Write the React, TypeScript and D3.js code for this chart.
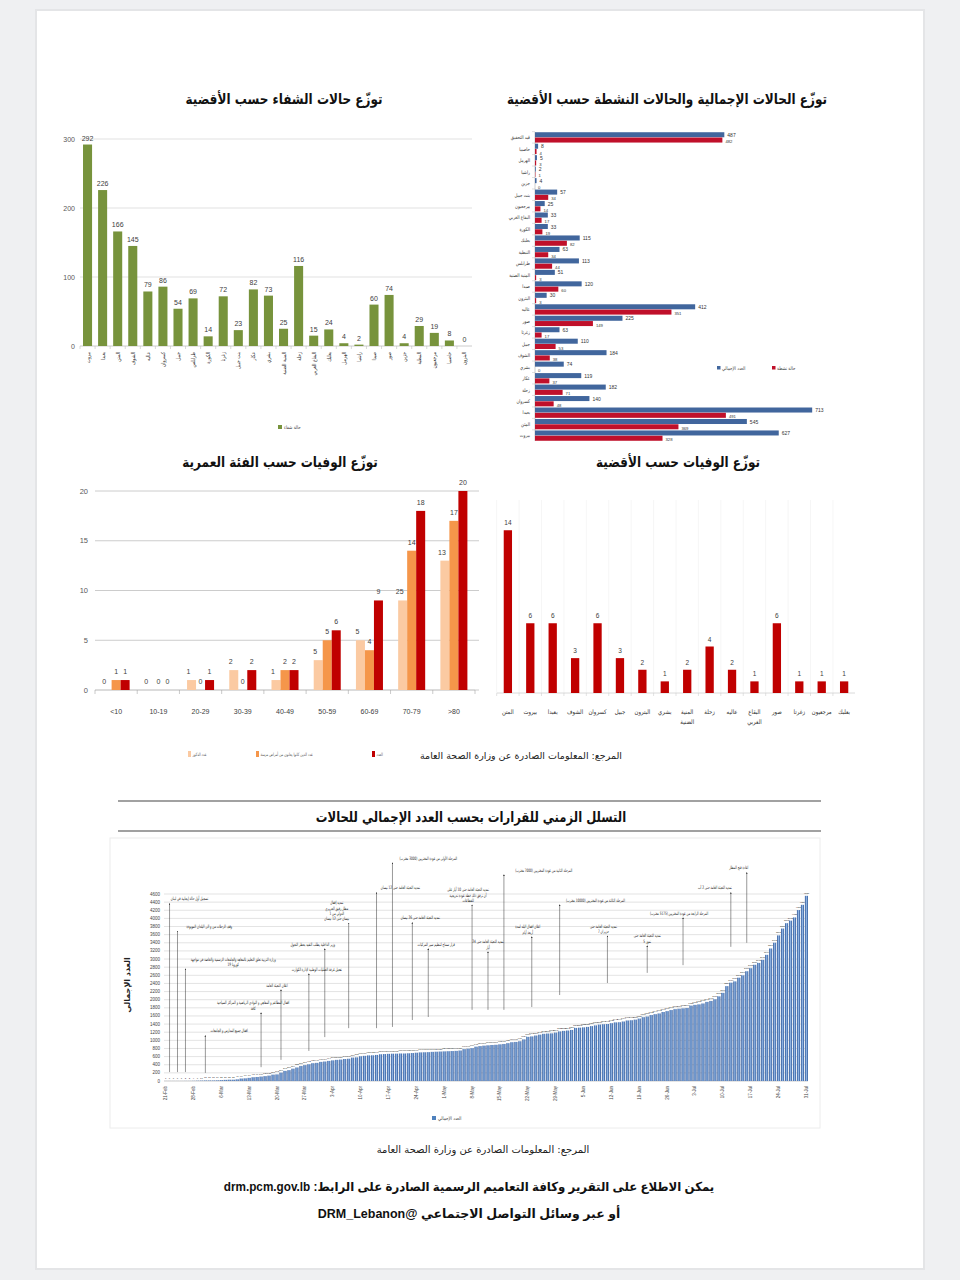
import React from 'react';
import * as d3 from 'd3';

const AR = "'DejaVu Sans', sans-serif";
const NUM = "'Liberation Sans Narrow', 'Liberation Sans', Arial, sans-serif";
const LAT = "'Liberation Sans', 'DejaVu Sans', Arial, sans-serif";

// ---------- Chart 1: recoveries by district ----------
const recoveryDistricts = ['بيروت', 'بعبدا', 'المتن', 'الشوف', 'عاليه', 'كسروان', 'جبيل', 'طرابلس', 'الكورة', 'زغرتا', 'بنت جبيل', 'عكار', 'بشري', 'المنية الضنية', 'زحلة', 'البقاع الغربي', 'بعلبك', 'الهرمل', 'راشيا', 'صيدا', 'صور', 'جزين', 'النبطية', 'مرجعيون', 'حاصبيا', 'البترون'];
const recoveryValues = [292, 226, 166, 145, 79, 86, 54, 69, 14, 72, 23, 82, 73, 25, 116, 15, 24, 4, 2, 60, 74, 4, 29, 19, 8, 0];
const recoveryTicks = [0, 100, 200, 300];

// ---------- Chart 2: total & active by district ----------
const caseDistricts = ['قيد التحقيق', 'حاصبيا', 'الهرمل', 'راشيا', 'جزين', 'بنت جبيل', 'مرجعيون', 'البقاع الغربي', 'الكورة', 'بعلبك', 'النبطية', 'طرابلس', 'المنية الضنية', 'صيدا', 'البترون', 'عاليه', 'صور', 'زغرتا', 'جبيل', 'الشوف', 'بشري', 'عكار', 'زحلة', 'كسروان', 'بعبدا', 'المتن', 'بيروت'];
const totalCases = [487, 8, 5, 2, 4, 57, 25, 33, 33, 115, 63, 113, 51, 120, 30, 412, 225, 63, 110, 184, 74, 119, 182, 140, 713, 545, 627];
const activeCases = [482, 4, 3, 1, 0, 34, 14, 17, 19, 82, 34, 44, 3, 60, 3, 351, 149, 17, 53, 38, 0, 37, 71, 48, 491, 369, 328];

// ---------- Chart 3: deaths by age ----------
const ageGroups = ['<10', '10-19', '20-29', '30-39', '40-49', '50-59', '60-69', '70-79', '>80'];
const deathsMale = [0, 0, 1, 2, 1, 3, 5, 9, 13];
const deathsMaleLabels = ['0', '0', '1', '2', '1', '5', '5', '25', '13'];
const deathsChronic = [1, 0, 0, 0, 2, 5, 4, 14, 17];
const deathsAll = [1, 0, 1, 2, 2, 6, 9, 18, 20];
const ageTicks = [0, 5, 10, 15, 20];
const ageSeriesNames = ['عدد الذكور', 'عدد الذين كانوا يعانون من أمراض مزمنة', 'العدد'];

// ---------- Chart 4: deaths by district ----------
const deathDistricts = [['المتن'], ['بيروت'], ['بعبدا'], ['الشوف'], ['كسروان'], ['جبيل'], ['البترون'], ['بشري'], ['المنية', 'الضنية'], ['زحلة'], ['عاليه'], ['البقاع', 'الغربي'], ['صور'], ['زغرتا'], ['مرجعيون'], ['بعلبك']];
const deathCounts = [14, 6, 6, 3, 6, 3, 2, 1, 2, 4, 2, 1, 6, 1, 1, 1];

// ---------- Chart 5: cumulative cases timeline ----------
const cumFeb = [1, 1, 1, 1, 1, 2, 2, 4, 7];
const cumMar = [10, 13, 13, 13, 16, 22, 28, 32, 32, 41, 61, 66, 77, 93, 99, 109, 120, 133, 157, 163, 206, 248, 267, 304, 333, 368, 391, 412, 438, 446, 470];
const cumApr = [479, 494, 508, 520, 527, 541, 548, 576, 582, 609, 619, 630, 632, 641, 658, 663, 668, 672, 673, 677, 677, 682, 688, 696, 704, 707, 710, 717, 721, 725];
const cumMay = [729, 733, 737, 741, 750, 784, 796, 809, 845, 859, 870, 878, 886, 891, 902, 911, 931, 954, 961, 978, 1024, 1086, 1097, 1119, 1140, 1161, 1168, 1172, 1191, 1220, 1233];
const cumJun = [1242, 1256, 1306, 1312, 1320, 1331, 1350, 1369, 1388, 1397, 1402, 1422, 1442, 1446, 1464, 1489, 1495, 1510, 1536, 1570, 1587, 1622, 1644, 1662, 1697, 1719, 1745, 1768, 1778, 1788];
const cumJul = [1796, 1855, 1873, 1885, 1907, 1946, 1968, 2011, 2082, 2168, 2334, 2419, 2451, 2542, 2599, 2700, 2775, 2859, 2905, 2980, 3104, 3260, 3402, 3582, 3750, 3882, 3945, 4023, 4205, 4334, 4555];
const cumulative = [...cumFeb, ...cumMar, ...cumApr, ...cumMay, ...cumJun, ...cumJul];
const timelineTicks = d3.range(0, 4601, 200);

const annotations = [
  { date: '2020-02-22', tip: 220, textDate: '2020-02-27', level: 4480, lines: ['تسجيل أول حالة إيجابية في لبنان'] },
  { date: '2020-02-24', tip: 220, textDate: '2020-03-03', level: 3800, lines: ['وقف الرحلات من و الى البلدان الموبوءة'] },
  { date: '2020-02-26', tip: 220, textDate: '2020-03-09', level: 3000, lines: ['وزارة التربية تعلق التعليم بالمعاهد والجامعات الرسمية والخاصة في مواجهة', 'كورونا 19'] },
  { date: '2020-03-02', tip: 200, textDate: '2020-03-08', level: 1230, lines: ['اقفال جميع المدارس و الجامعات'] },
  { date: '2020-03-16', tip: 340, textDate: '2020-03-14', level: 1920, lines: ['اقفال المطاعم و المقاهي و النوادي الرياضية و المراكز السياحية', 'كافة'] },
  { date: '2020-03-21', tip: 520, textDate: '2020-03-20', level: 2360, lines: ['اعلان التعبئة العامة'] },
  { date: '2020-03-28', tip: 740, textDate: '2020-03-30', level: 2750, lines: ['تفعيل غرفة العمليات الوطنية لإدارة الكوارث'] },
  { date: '2020-04-01', tip: 1080, textDate: '2020-03-29', level: 3370, lines: ['وزير الداخلية يطلب التقيد بحظر التجول'] },
  { date: '2020-04-07', tip: 1300, textDate: '2020-04-04', level: 4380, lines: ['تمديد إقفال', 'مطار رفيق الحريري', 'الدولي من 1', 'نيسان حتى 12 نيسان'] },
  { date: '2020-04-14', tip: 1300, textDate: '2020-04-20', level: 4750, lines: ['تمديد التعبئة العامة حتى 12 نيسان'] },
  { date: '2020-04-18', tip: 1330, textDate: '2020-04-27', level: 5480, lines: ['المرحلة الأولى من عودة المغتربين (3000 مغترب)'] },
  { date: '2020-04-23', tip: 1500, textDate: '2020-04-25', level: 4010, lines: ['تمديد التعبئة العامة حتى 26 نيسان'] },
  { date: '2020-04-27', tip: 1575, textDate: '2020-04-29', level: 3370, lines: ['قرار سماح لتنظيم سير المركبات'] },
  { date: '2020-05-08', tip: 1750, textDate: '2020-05-07', level: 4700, lines: ['تمديد التعبئة العامة حتى 10 أيار على', 'أن ترفق ذلك خطة عودة تدريجية', 'للقطاعات'] },
  { date: '2020-05-12', tip: 1750, textDate: '2020-05-12', level: 3420, lines: ['تمديد التعبئة العامة حتى 24', 'أيار'] },
  { date: '2020-05-16', tip: 1750, textDate: '2020-05-26', level: 5190, lines: ['المرحلة الثانية من عودة المغتربين (7000 مغترب)'] },
  { date: '2020-05-23', tip: 1820, textDate: '2020-05-22', level: 3790, lines: ['اعلان اقفال البلد لمدة', 'أربعة أيام'] },
  { date: '2020-05-30', tip: 2115, textDate: '2020-06-08', level: 4450, lines: ['المرحلة الثالثة من عودة المغتربين (10000 مغترب)'] },
  { date: '2020-06-11', tip: 2410, textDate: '2020-06-10', level: 3810, lines: ['تمديد التعبئة العامة حتى', '7 حزيران'] },
  { date: '2020-06-21', tip: 2660, textDate: '2020-06-21', level: 3570, lines: ['تمديد التعبئة العامة حتى', '5 تموز'] },
  { date: '2020-06-30', tip: 2850, textDate: '2020-06-29', level: 4130, lines: ['المرحلة الرابعة من عودة المغتربين (5175 مغترب)'] },
  { date: '2020-07-12', tip: 3300, textDate: '2020-07-08', level: 4750, lines: ['تمديد التعبئة العامة حتى 2 آب'] },
  { date: '2020-07-16', tip: 3400, textDate: '2020-07-14', level: 5240, lines: ['اعادة فتح المطار'] },
];

type TP = { x: number; y: number; size: number; anchor?: string; weight?: string | number; fill?: string; sx?: number; rot?: number; family?: string; dir?: string; children: React.ReactNode };
function T({ x, y, size, anchor = 'middle', weight = 'normal', fill = '#222', sx = 1, rot = 0, family = AR, dir, children }: TP) {
  return (
    <text transform={`translate(${x},${y}) rotate(${rot}) scale(${sx},1)`} fontSize={size} textAnchor={anchor}
      fontWeight={weight} fill={fill} fontFamily={family} direction={dir as any}>{children}</text>
  );
}

const TITLE_SX = 0.83;

function RecoveryChart() {
  const x = d3.scaleBand<string>().domain(recoveryDistricts).range([80, 472]).paddingInner(0.4).paddingOuter(0.2);
  const y = d3.scaleLinear().domain([0, 300]).range([346, 139]);
  const step = x.step();
  return (
    <g>
      <T x={284} y={104} size={14.5} weight="bold" sx={TITLE_SX} fill="#111">توزّع حالات الشفاء حسب الأقضية</T>
      {recoveryTicks.map(t => (
        <g key={t}>
          {t > 0 && <line x1={80} x2={472} y1={y(t)} y2={y(t)} stroke="#d9d9d9" strokeWidth={0.8} />}
          <T x={75} y={y(t) + 2.5} size={7} anchor="end" fill="#595959" family={NUM}>{t}</T>
        </g>
      ))}
      <line x1={80} x2={472} y1={y(0)} y2={y(0)} stroke="#bfbfbf" strokeWidth={0.8} />
      {recoveryDistricts.map((d, i) => (
        <line key={d} x1={80 + i * step} x2={80 + i * step} y1={y(0)} y2={y(0) + 3} stroke="#bfbfbf" strokeWidth={0.6} />
      ))}
      {recoveryDistricts.map((d, i) => (
        <g key={d}>
          <rect x={x(d)} y={y(recoveryValues[i])} width={x.bandwidth()} height={y(0) - y(recoveryValues[i])} fill="#77933c" />
          <T x={x(d)! + x.bandwidth() / 2} y={y(recoveryValues[i]) - 4} size={7} fill="#404040" family={NUM}>{recoveryValues[i]}</T>
          <T x={x(d)! + x.bandwidth() / 2 + 2} y={352} size={5.5} anchor="end" rot={-90} sx={0.8} fill="#333">{d}</T>
        </g>
      ))}
      <rect x={278} y={425} width={4} height={4} fill="#77933c" />
      <T x={284} y={429} size={5} anchor="start" sx={0.8} fill="#444">حالة شفاء</T>
    </g>
  );
}

function CasesChart() {
  const y = d3.scaleBand<string>().domain(caseDistricts).range([132, 441]).paddingInner(0.1).paddingOuter(0.02);
  const sub = d3.scaleBand<number>().domain([0, 1]).range([0, y.bandwidth()]).paddingInner(0.05);
  const x = d3.scaleLinear().domain([0, 800]).range([535, 846]);
  const blue = '#41669d';
  const red = '#c0102a';
  return (
    <g>
      <T x={667} y={104} size={14.5} weight="bold" sx={TITLE_SX} fill="#111">توزّع الحالات الإجمالية والحالات النشطة حسب الأقضية</T>
      <line x1={x(0)} x2={x(0)} y1={132} y2={441} stroke="#bfbfbf" strokeWidth={0.8} />
      {caseDistricts.map((d, i) => {
        const y0 = y(d)!;
        return (
          <g key={d}>
            <line x1={x(0) - 3} x2={x(0)} y1={y0 - 0.6} y2={y0 - 0.6} stroke="#bfbfbf" strokeWidth={0.5} />
            <rect x={x(0)} y={y0 + sub(0)!} width={x(totalCases[i]) - x(0)} height={sub.bandwidth()} fill={blue} />
            <rect x={x(0)} y={y0 + sub(1)!} width={x(activeCases[i]) - x(0)} height={sub.bandwidth()} fill={red} />
            <T x={x(totalCases[i]) + 3} y={y0 + sub(0)! + sub.bandwidth() - 0.5} size={5} anchor="start" fill="#333" family={NUM}>{totalCases[i]}</T>
            <T x={x(activeCases[i]) + 3} y={y0 + sub(1)! + sub.bandwidth() + 0.5} size={4.2} anchor="start" fill="#333" family={NUM}>{activeCases[i]}</T>
            <T x={530} y={y0 + y.bandwidth() / 2 + 1.8} size={5} anchor="end" sx={0.8} fill="#333">{d}</T>
          </g>
        );
      })}
      <rect x={717} y={366} width={3.5} height={3.5} fill={blue} />
      <T x={722} y={369.5} size={5} anchor="start" sx={0.8} fill="#444">العدد الإجمالي</T>
      <rect x={772} y={366} width={3.5} height={3.5} fill={red} />
      <T x={777} y={369.5} size={5} anchor="start" sx={0.8} fill="#444">حالة نشطة</T>
    </g>
  );
}

function AgeChart() {
  const x = d3.scaleBand<string>().domain(ageGroups).range([95, 475]).paddingInner(0.36).paddingOuter(0.18);
  const sub = d3.scaleBand<number>().domain([0, 1, 2]).range([0, x.bandwidth()]);
  const y = d3.scaleLinear().domain([0, 20]).range([690, 491]);
  const colors = ['#fbcaa2', '#f5964a', '#c00000'];
  const series = [deathsMale, deathsChronic, deathsAll];
  const labels = [deathsMaleLabels, deathsChronic.map(String), deathsAll.map(String)];
  const step = x.step();
  return (
    <g>
      <T x={280} y={467} size={14.5} weight="bold" sx={TITLE_SX} fill="#111">توزّع الوفيات حسب الفئة العمرية</T>
      {ageTicks.map(t => (
        <g key={t}>
          <line x1={95} x2={475} y1={y(t)} y2={y(t)} stroke={t === 0 ? '#a6a6a6' : '#bfbfbf'} strokeWidth={0.8} />
          <line x1={475} x2={479} y1={y(t)} y2={y(t)} stroke="#bfbfbf" strokeWidth={0.8} />
          <T x={88} y={y(t) + 2.5} size={7.5} anchor="end" fill="#595959" family={NUM}>{t}</T>
        </g>
      ))}
      <line x1={95} x2={95} y1={y(0)} y2={y(0) + 4} stroke="#a6a6a6" strokeWidth={0.6} />
      {ageGroups.map((g, i) => (
        <g key={g}>
          <line x1={95 + (i + 1) * step} x2={95 + (i + 1) * step} y1={y(0)} y2={y(0) + 4} stroke="#a6a6a6" strokeWidth={0.6} />
          {series.map((s, k) => (
            <g key={k}>
              <rect x={x(g)! + sub(k)!} y={y(s[i])} width={sub.bandwidth()} height={y(0) - y(s[i])} fill={colors[k]} />
              <T x={x(g)! + sub(k)! + sub.bandwidth() / 2 - (k === 0 ? 3 : 0)} y={y(s[i]) - 6} size={7} fill="#404040" family={NUM}>{labels[k][i]}</T>
            </g>
          ))}
          <T x={x(g)! + x.bandwidth() / 2} y={714} size={7} fill="#404040" family={NUM}>{g}</T>
        </g>
      ))}
      {ageSeriesNames.map((n, k) => {
        const lx = [188, 256, 372][k];
        return (
          <g key={n}>
            <rect x={lx} y={751} width={3} height={6} fill={colors[k]} />
            <T x={lx + 4.5} y={756} size={4.5} anchor="start" sx={0.7} fill="#555">{n}</T>
          </g>
        );
      })}
    </g>
  );
}

function DeathsDistrictChart() {
  const names = deathDistricts.map(d => d.join(' '));
  const x = d3.scaleBand<string>().domain(names).range([497, 855]).paddingInner(0.63).paddingOuter(0.3);
  const y = d3.scaleLinear().domain([0, 16]).range([693, 507]);
  const step = x.step();
  return (
    <g>
      <T x={678} y={467} size={14.5} weight="bold" sx={TITLE_SX} fill="#111">توزّع الوفيات حسب الأقضية</T>
      {names.map(n => (
        <line key={'g' + n} x1={x(n)! - step * 0.315} x2={x(n)! - step * 0.315} y1={500} y2={693} stroke="#f4f4f4" strokeWidth={0.8} />
      ))}
      <line x1={497} x2={855} y1={y(0)} y2={y(0)} stroke="#d0d0d0" strokeWidth={0.8} />
      {names.map((n, i) => (
        <g key={n}>
          <line x1={x(n)! - step * 0.315} x2={x(n)! - step * 0.315} y1={y(0)} y2={y(0) + 3} stroke="#d0d0d0" strokeWidth={0.6} />
          <rect x={x(n)} y={y(deathCounts[i])} width={x.bandwidth()} height={y(0) - y(deathCounts[i])} fill="#c00000" />
          <T x={x(n)! + x.bandwidth() / 2} y={y(deathCounts[i]) - 5} size={6.5} fill="#404040" family={NUM}>{deathCounts[i]}</T>
          {deathDistricts[i].map((part, j) => (
            <T key={j} x={x(n)! + x.bandwidth() / 2} y={714 + j * 10} size={6.3} sx={0.85} fill="#333">{part}</T>
          ))}
        </g>
      ))}
      <T x={622} y={759} size={9.5} anchor="end" fill="#222">المرجع: المعلومات الصادرة عن وزارة الصحة العامة</T>
    </g>
  );
}

function TimelineChart() {
  const parse = d3.timeParse('%Y-%m-%d');
  const dates = d3.timeDay.range(new Date(2020, 1, 21), new Date(2020, 7, 1));
  const x = d3.scaleBand<number>().domain(dates.map(d => +d)).range([164, 808]).paddingInner(0.22);
  const y = d3.scaleLinear().domain([0, 4600]).range([1081, 894]);
  const bw = x.bandwidth();
  const cx = (d: Date) => x(+d)! + bw / 2;
  const fmt = d3.timeFormat('%-d-%b');
  return (
    <g>
      <defs>
        <linearGradient id="barGrad" x1="0" x2="1" y1="0" y2="0">
          <stop offset="0%" stopColor="#2c5597" />
          <stop offset="50%" stopColor="#8fb4e3" />
          <stop offset="100%" stopColor="#2c5597" />
        </linearGradient>
        <marker id="arr" viewBox="0 0 6 6" refX={3} refY={3} markerWidth={3.5} markerHeight={3.5} orient="auto">
          <path d="M0,0 L6,3 L0,6 z" fill="#333" />
        </marker>
      </defs>
      <line x1={118} x2={821} y1={801} y2={801} stroke="#444" strokeWidth={1.2} />
      <T x={471} y={822} size={14} weight="bold" sx={TITLE_SX} fill="#111">التسلل الزمني للقرارات بحسب العدد الإجمالي للحالات</T>
      <line x1={118} x2={821} y1={831} y2={831} stroke="#444" strokeWidth={1.2} />
      <rect x={110} y={838} width={710} height={290} fill="none" stroke="#ececec" strokeWidth={1} />
      {timelineTicks.map(t => (
        <g key={t}>
          <line x1={164} x2={808} y1={y(t)} y2={y(t)} stroke={t === 0 ? '#aaa' : '#d0d0d0'} strokeWidth={0.6} />
          <T x={160} y={y(t) + 1.5} size={4.5} anchor="end" fill="#444" family={NUM}>{t}</T>
        </g>
      ))}
      {dates.map((d, i) => (
        <g key={+d}>
          <rect x={x(+d)} y={y(cumulative[i])} width={bw} height={y(0) - y(cumulative[i])} fill="url(#barGrad)" />
          <T x={cx(d)} y={y(cumulative[i]) - 2} size={2.4} fill="#333" family={NUM}>{cumulative[i]}</T>
          {i % 7 === 0 && <T x={cx(d) + 1.5} y={1086} size={4.5} anchor="end" rot={-90} fill="#444" family={NUM}>{fmt(d)}</T>}
        </g>
      ))}
      {annotations.map((a, i) => {
        const d = parse(a.date)!;
        const td = parse(a.textDate)!;
        const ty = y(a.level) + 1.5;
        const lastY = ty + (a.lines.length - 1) * 5.2;
        return (
          <g key={i}>
            <line x1={cx(d)} x2={cx(d)} y1={y(a.tip)} y2={lastY + 3.5} stroke="#333" strokeWidth={0.5} markerEnd="url(#arr)" />
            {a.lines.map((ln, j) => (
              <T key={j} x={cx(td)} y={ty + j * 5.2} size={4.6} sx={0.6} fill="#222">{ln}</T>
            ))}
          </g>
        );
      })}
      <T x={130} y={985} size={8} weight="bold" rot={-90} fill="#222">العدد الإجمالي</T>
      <rect x={432} y={1116} width={4} height={4} fill="#4f81bd" />
      <T x={438} y={1120} size={5} anchor="start" sx={0.8} fill="#444">العدد الإجمالي</T>
    </g>
  );
}

export default function App() {
  return (
    <svg width={960} height={1280} viewBox="0 0 960 1280" style={{ position: 'absolute', left: 0, top: 0, display: 'block' }}>
      <rect x={0} y={0} width={960} height={1280} fill="#eff0f2" />
      <rect x={35} y={9} width={890} height={1261} fill="#e4e5e7" />
      <rect x={37} y={11} width={886} height={1257} fill="#ffffff" />
      <RecoveryChart />
      <CasesChart />
      <AgeChart />
      <DeathsDistrictChart />
      <TimelineChart />
      <T x={483} y={1153} size={10} fill="#222">المرجع: المعلومات الصادرة عن وزارة الصحة العامة</T>
      <T x={469} y={1191} size={12.5} weight="bold" sx={0.94} fill="#111" family={LAT} dir="rtl">يمكن الاطلاع على التقرير وكافة التعاميم الرسمية الصادرة على الرابط: drm.pcm.gov.lb</T>
      <T x={469} y={1218} size={12.5} weight="bold" fill="#111" family={LAT} dir="rtl">أو عبر وسائل التواصل الاجتماعي @DRM_Lebanon</T>
    </svg>
  );
}
